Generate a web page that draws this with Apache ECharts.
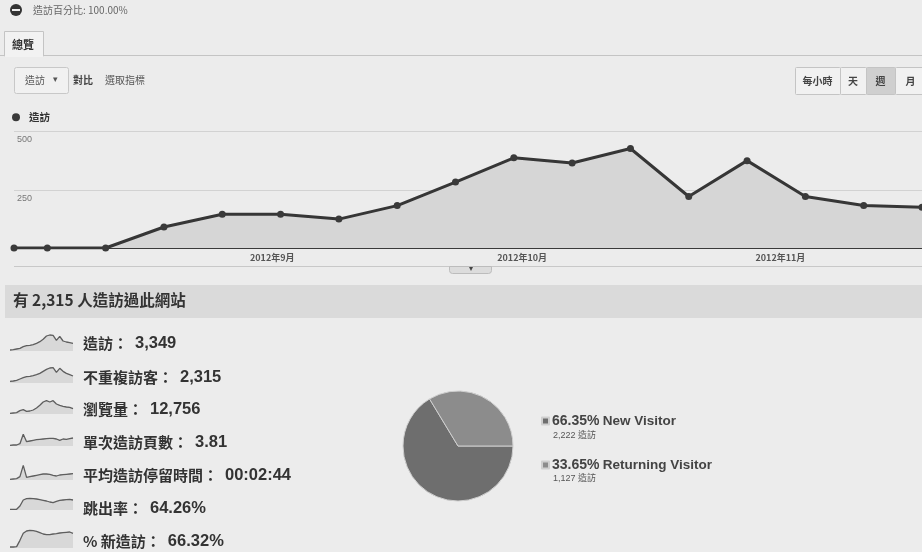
<!DOCTYPE html>
<html><head><meta charset="utf-8">
<script src="https://cdn.jsdelivr.net/npm/echarts@6/dist/echarts.min.js"></script>
<style>html,body{margin:0;padding:0;background:#ececec;} #c{width:922px;height:552px;}</style>
</head><body><div id="c"></div>
<script>
// ---- data ----
const weekDates = ['2012-08-01','2012-08-05','2012-08-12','2012-08-19','2012-08-26','2012-09-02','2012-09-09','2012-09-16','2012-09-23','2012-09-30','2012-10-07','2012-10-14','2012-10-21','2012-10-28','2012-11-04','2012-11-11','2012-11-18'];
const visits = [0,0,0,90,145,145,124,182,283,387,365,427,221,375,221,182,175];
const yTicks = [0,250,500];
const monthTicks = ['2012-09-01','2012-10-01','2012-11-01'];
const monthLabels = ['2012年9月','2012年10月','2012年11月'];

const metricNames = ['造訪','不重複訪客','瀏覽量','單次造訪頁數','平均造訪停留時間','跳出率','% 新造訪'];
const metricValues = ['3,349','2,315','12,756','3.81','00:02:44','64.26%','66.32%'];
const sparkVisits   = [3,4,6,8,13,16,17,19,23,28,35,45,48,47,32,44,30,27,25,23];
const sparkUnique   = [5,6,8,12,16,19,20,22,25,29,35,41,45,46,32,44,35,29,25,21];
const sparkViews    = [2,3,4,10,13,8,9,12,18,26,36,40,36,40,30,26,23,21,20,16];
const sparkPages    = [2,3,3,7,35,13,15,17,19,20,21,22,23,23,21,17,21,20,22,24];
const sparkDuration = [2,3,4,10,44,8,10,12,14,16,18,18,17,14,12,15,16,17,18,19];
const sparkBounce   = [2,2,2,12,30,34,35,34,33,31,29,27,24,22,26,29,30,31,32,30];
const sparkNew      = [3,3,4,23,44,51,53,52,50,46,42,40,40,42,43,45,46,47,48,44];
const sparks = [sparkVisits,sparkUnique,sparkViews,sparkPages,sparkDuration,sparkBounce,sparkNew];

const headerText = '有 2,315 人造訪過此網站';
const pieNames = ['New Visitor','Returning Visitor'];
const pieVisits = [2222,1127];
const pieColors = ['#6e6e6e','#8c8c8c'];

// ---- helpers ----
function ts(s){const p=s.split('-').map(Number);return Date.UTC(p[0],p[1]-1,p[2]);}
const DAY = 86400000;
const t0 = ts(weekDates[0]);
function dayIdx(s){return Math.round((ts(s)-t0)/DAY);}
const CJK = '"Noto Sans CJK TC","Noto Sans CJK SC",sans-serif';
const LAT = '"Liberation Sans",Arial,"Noto Sans CJK TC",sans-serif';
const pieTotal = pieVisits.reduce((a,b)=>a+b,0);
function fmtInt(n){return n.toLocaleString('en-US');}

const chart = echarts.init(document.getElementById('c'), null, {renderer:'canvas'});

const rowCenters = [343,377,409,442,475,508,541];
const sparkBase  = [351,383,414,446,480,510,548];
const monthIdx = monthTicks.map(dayIdx);

const grids = [{left:14, right:-4, top:131.5, bottom:304}];
const xAxes = [{
  type:'value', gridIndex:0,
  min: 0, max: dayIdx(weekDates[weekDates.length-1]),
  axisLine:{show:true, onZero:false, lineStyle:{color:'#3a3a3a', width:2}},
  axisTick:{show:false},
  splitLine:{show:false},
  axisLabel:{
    customValues: monthIdx,
    margin:5, fontSize:9, fontWeight:'bold', color:'#555', fontFamily:CJK,
    formatter: v => { const i = monthIdx.indexOf(v); return i>=0 ? monthLabels[i] : ''; }
  }
}];
const yAxes = [{
  type:'value', gridIndex:0, min:yTicks[0], max:yTicks[yTicks.length-1], interval:yTicks[1]-yTicks[0],
  axisLine:{show:false}, axisTick:{show:false},
  splitLine:{lineStyle:{color:'#d2d2d2', width:1}},
  axisLabel:{inside:true, margin:3, fontSize:9, color:'#777', fontFamily:LAT, verticalAlign:'top', padding:[4,0,0,0],
    formatter: v => v===0 ? '' : String(v)}
}];
const series = [{
  name:'造訪', type:'line', xAxisIndex:0, yAxisIndex:0,
  data: weekDates.map((d,i)=>[dayIdx(d), visits[i]]),
  symbol:'circle', symbolSize:7,
  itemStyle:{color:'#3a3a3a'},
  lineStyle:{color:'#363636', width:3},
  areaStyle:{color:'#d6d6d6', opacity:1},
  z:3
}];

sparks.forEach((arr, k) => {
  const gi = k+1;
  grids.push({left:10, width:63, top:sparkBase[k]-20, height:20});
  xAxes.push({type:'category', gridIndex:gi, boundaryGap:false, data:arr.map((_,i)=>String(i)), show:false});
  yAxes.push({type:'value', gridIndex:gi, min:0, max:60, show:false});
  series.push({
    type:'line', xAxisIndex:gi, yAxisIndex:gi, data:arr, symbol:'none', silent:true,
    lineStyle:{color:'#5e5e5e', width:1.3}, areaStyle:{color:'#d8d8d8', opacity:1}
  });
});

series.push({
  type:'pie', center:[458,446], radius:[0,55], startAngle:0, clockwise:true,
  label:{show:false}, labelLine:{show:false},
  itemStyle:{borderColor:'#cfcfcf', borderWidth:1},
  data: pieNames.map((n,i)=>({name:n, value:pieVisits[i], itemStyle:{color:pieColors[i]}})),
  silent:true
});

const g = [];
g.push({type:'circle', shape:{cx:16, cy:10, r:6}, style:{fill:'#333'}});
g.push({type:'rect', shape:{x:12, y:9, width:8, height:2}, style:{fill:'#eee'}});
g.push({type:'text', left:33, top:5, style:{text:'造訪百分比: 100.00%', font:'10px '+CJK, fill:'#666'}});
g.push({type:'line', shape:{x1:0, y1:55.5, x2:922, y2:55.5}, style:{stroke:'#c4c4c4', lineWidth:1}});
g.push({type:'rect', shape:{x:4.5, y:31.5, width:39, height:24.5}, style:{fill:'#f2f2f2', stroke:'#c4c4c4', lineWidth:1}});
g.push({type:'rect', shape:{x:5, y:54, width:38, height:3}, style:{fill:'#f2f2f2'}});
g.push({type:'text', left:12, top:39, style:{text:'總覽', font:'bold 11px '+CJK, fill:'#333'}});
g.push({type:'rect', shape:{x:14.5, y:67.5, width:54, height:26, r:2}, style:{fill:'#f1f1f1', stroke:'#c8c8c8', lineWidth:1}});
g.push({type:'text', left:25, top:75, style:{text:'造訪', font:'10px '+CJK, fill:'#555'}});
g.push({type:'text', left:53, top:75, style:{text:'▾', font:'9px '+LAT, fill:'#555'}});
g.push({type:'text', left:73, top:75, style:{text:'對比', font:'bold 10px '+CJK, fill:'#444'}});
g.push({type:'text', left:105, top:75, style:{text:'選取指標', font:'10px '+CJK, fill:'#555'}});
const btns = [['每小時',795,840],['天',840,866],['週',866,895],['月',895,926]];
btns.forEach((b,i)=>{
  g.push({type:'rect', shape:{x:b[1]+0.5, y:67.5, width:b[2]-b[1], height:27, r:1},
    style:{fill: i===2 ? '#cfcfcf' : '#f1f1f1', stroke:'#c4c4c4', lineWidth:1}});
  g.push({type:'text', x:(b[1]+b[2])/2, y:81, style:{text:b[0], font:'bold 10px '+CJK, fill:'#444', align:'center', verticalAlign:'middle'}});
});
g.push({type:'line', shape:{x1:14, y1:266.5, x2:922, y2:266.5}, style:{stroke:'#c8c8c8', lineWidth:1}});
g.push({type:'rect', shape:{x:449.5, y:266.5, width:42, height:7, r:[0,0,3,3]}, style:{fill:'#dcdcdc', stroke:'#bcbcbc', lineWidth:1}});
g.push({type:'text', x:470.5, y:269, style:{text:'▾', font:'8px '+LAT, fill:'#444', align:'center', verticalAlign:'middle'}});
g.push({type:'rect', shape:{x:5, y:285, width:917, height:33}, style:{fill:'#dadada'}});
g.push({type:'text', left:13, top:292, style:{text:headerText, font:'bold 15.5px '+CJK, fill:'#333'}});
metricNames.forEach((n,i)=>{
  g.push({type:'text', x:83, y:rowCenters[i], style:{
    text:'{a|'+n+'：}{b|'+metricValues[i]+'}', verticalAlign:'middle',
    rich:{
      a:{font:'bold 15px '+CJK, fill:'#333', verticalAlign:'middle', lineHeight:22},
      b:{font:'bold 16.5px '+LAT, fill:'#333', verticalAlign:'middle', lineHeight:22, padding:[0,0,0,7]}
    }
  }});
});
const subY = [436,479];
pieVisits.forEach((v,i)=>{
  g.push({type:'text', x:553, y:subY[i], style:{text:fmtInt(v)+' 造訪', font:'9px '+LAT, fill:'#555', verticalAlign:'middle'}});
});

const option = {
  animation:false,
  backgroundColor:'#ececec',
  grid: grids, xAxis: xAxes, yAxis: yAxes, series: series,
  legend:[
    {data:['造訪'], left:12, top:112, padding:0, icon:'circle', itemWidth:8, itemHeight:8, itemGap:5,
     textStyle:{fontSize:10.5, fontWeight:'bold', color:'#333', fontFamily:CJK, padding:[0,0,0,4]}},
    {data:pieNames, left:541, top:414, padding:0, orient:'vertical', itemGap:30, icon:'rect', itemWidth:7, itemHeight:7,
     formatter: name => { const i = pieNames.indexOf(name); return '{p|'+(pieVisits[i]/pieTotal*100).toFixed(2)+'%} {n|'+name+'}'; },
     textStyle:{padding:[0,0,0,-2], rich:{p:{fontSize:14, fontWeight:'bold', color:'#444', fontFamily:LAT}, n:{fontSize:13.5, fontWeight:'bold', color:'#444', fontFamily:LAT}}}}
  ],
  graphic: g
};
chart.setOption(option);
</script>
</body></html>
